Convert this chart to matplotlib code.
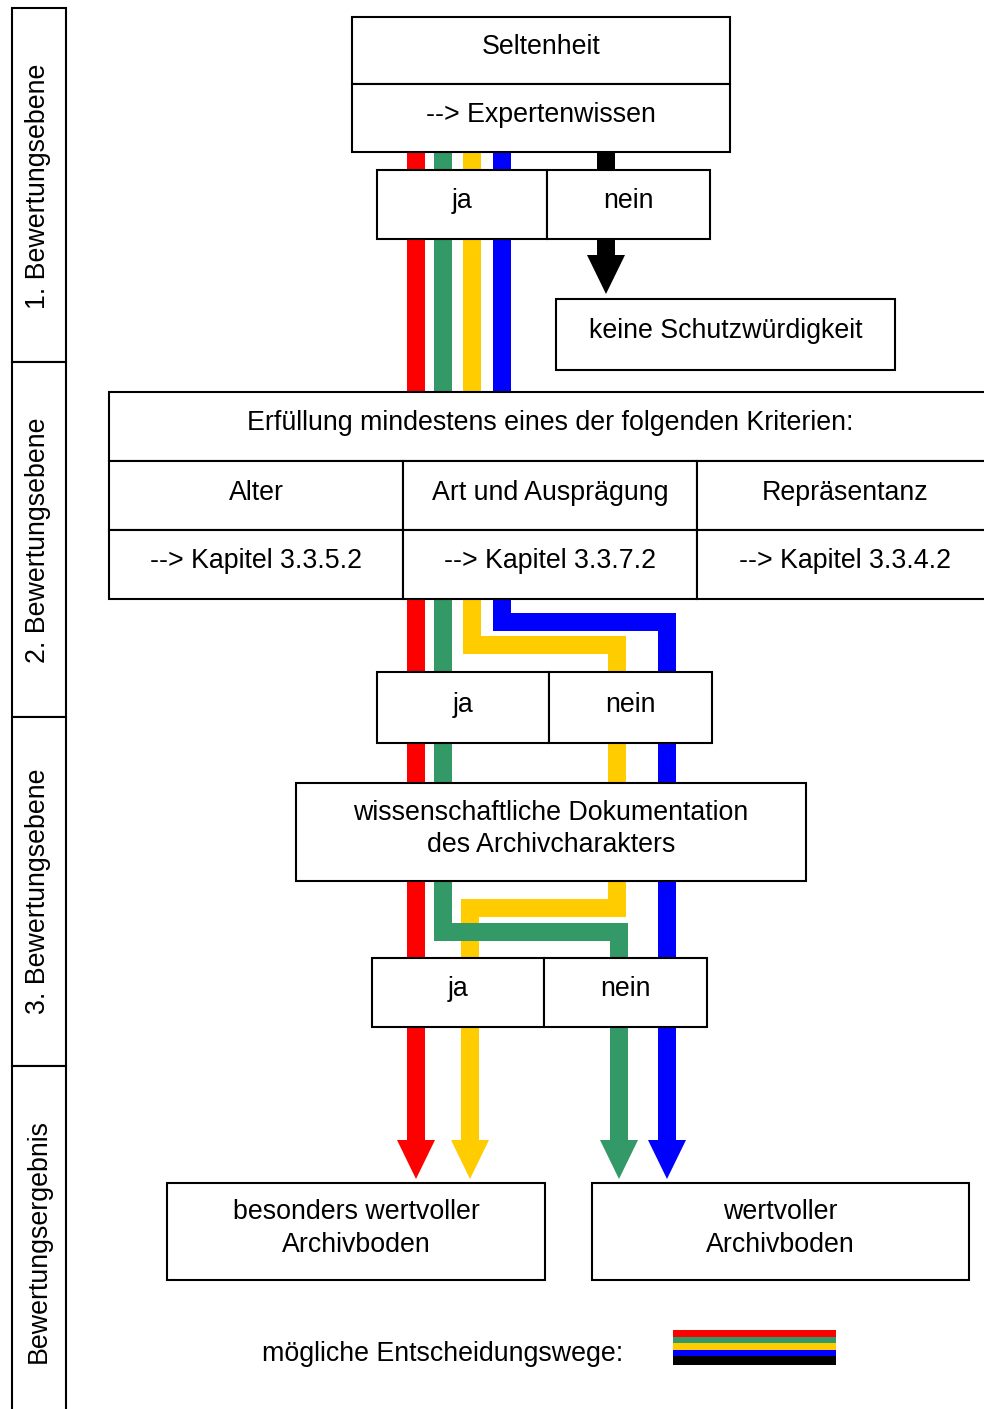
import matplotlib
matplotlib.use("Agg")
import matplotlib.pyplot as plt
from matplotlib.patches import Rectangle, Polygon

plt.rcParams['font.family'] = ['Liberation Sans', 'DejaVu Sans']

W, H = 984, 1409
FS = 19.3
LW_BOX = 1.5
PATH_W = 18  # px
DY = -3      # text vertical nudge (px)

# ---- content ----
level_labels = ["1. Bewertungsebene", "2. Bewertungsebene", "3. Bewertungsebene", "Bewertungsergebnis"]
level_bounds = [8, 362, 717, 1066, 1420]

path_colors = ["#FFCC00", "#FF0000", "#339966", "#0000FF"]  # draw order: yellow under green
legend_colors = ["#FF0000", "#339966", "#FFCC00", "#0000FF", "#000000"]

# path waypoints (x, y) in pixel layout coordinates, ending at arrow-head base
paths = {
    "#FF0000": [(416, 152), (416, 1140)],
    "#339966": [(443, 152), (443, 931.5), (619, 931.5), (619, 1140)],
    "#FFCC00": [(472, 152), (472, 645), (617, 645), (617, 907.5), (470, 907.5), (470, 1140)],
    "#0000FF": [(502, 152), (502, 621.5), (667, 621.5), (667, 1140)],
}
arrow_tip_y = 1179

fig = plt.figure(figsize=(W / 100, H / 100), dpi=100)
ax = fig.add_axes([0, 0, 1, 1])
ax.set_xlim(0, W)
ax.set_ylim(H, 0)
ax.axis('off')

px2pt = 72 / 100


def label(x, y, text, **kw):
    ax.text(x, y + DY, text, ha='center', va='center', fontsize=FS, zorder=6,
            linespacing=1.33, **kw)


def box(x0, y0, x1, y1, text=None):
    ax.add_patch(Rectangle((x0, y0), x1 - x0, y1 - y0, facecolor='white',
                           edgecolor='black', lw=LW_BOX, zorder=5))
    if text is not None:
        label((x0 + x1) / 2, (y0 + y1) / 2, text)


def arrow_head(xc, ybase, ytip, color, half=19):
    ax.add_patch(Polygon([(xc - half, ybase), (xc + half, ybase), (xc, ytip)],
                         closed=True, facecolor=color, edgecolor='none', zorder=3))


# ---- colored paths ----
for i, c in enumerate(path_colors):
    pts = paths[c]
    xs = [p[0] for p in pts]
    ys = [p[1] for p in pts]
    ax.plot(xs, ys, color=c, lw=PATH_W * px2pt, solid_joinstyle='miter',
            solid_capstyle='butt', zorder=2 + i * 0.1)
    arrow_head(xs[-1], ys[-1], arrow_tip_y, c)

# black path
ax.plot([606, 606], [152, 255], color='black', lw=PATH_W * px2pt,
        solid_capstyle='butt', zorder=2)
arrow_head(606, 255, 294, 'black')

# ---- left level column ----
level_cy = [186, 540, 891, 1241]
for i, lab in enumerate(level_labels):
    y0, y1 = level_bounds[i], level_bounds[i + 1]
    ax.add_patch(Rectangle((11.5, y0), 54, y1 - y0, facecolor='white',
                           edgecolor='black', lw=LW_BOX, zorder=5))
    ax.text(38.5, level_cy[i], lab, rotation=90,
            ha='center', va='center', fontsize=FS, zorder=6)

# ---- boxes ----
box(352, 17, 730, 84, "Seltenheit")
box(352, 84, 730, 152, "--> Expertenwissen")

box(377, 170, 547, 239, "ja")
box(547, 170, 710, 239, "nein")
box(556, 299, 895, 370, "keine Schutzwürdigkeit")

box(109, 392, 990, 461, None)
label(550, 426.5, "Erfüllung mindestens eines der folgenden Kriterien:")
crit_cols = [109, 403, 697, 990]
crit_names = ["Alter", "Art und Ausprägung", "Repräsentanz"]
crit_refs = ["--> Kapitel 3.3.5.2", "--> Kapitel 3.3.7.2", "--> Kapitel 3.3.4.2"]
crit_cx = [256, 550, 845]
for j in range(3):
    ax.add_patch(Rectangle((crit_cols[j], 461), crit_cols[j + 1] - crit_cols[j], 69,
                           facecolor='white', edgecolor='black', lw=LW_BOX, zorder=5))
    ax.add_patch(Rectangle((crit_cols[j], 530), crit_cols[j + 1] - crit_cols[j], 69,
                           facecolor='white', edgecolor='black', lw=LW_BOX, zorder=5))
    label(crit_cx[j], 495.5, crit_names[j])
    label(crit_cx[j], 564.5, crit_refs[j])

box(377, 672, 549, 743, "ja")
box(549, 672, 712, 743, "nein")

box(296, 783, 806, 881, "wissenschaftliche Dokumentation\ndes Archivcharakters")

box(372, 958, 544, 1027, "ja")
box(544, 958, 707, 1027, "nein")

box(167, 1183, 545, 1280, "besonders wertvoller\nArchivboden")
box(592, 1183, 969, 1280, "wertvoller\nArchivboden")

# ---- legend ----
label(443, 1357, "mögliche Entscheidungswege:")
leg_edges = [1330, 1337, 1343, 1350, 1356, 1365]
for k, c in enumerate(legend_colors):
    ax.add_patch(Rectangle((673, leg_edges[k]), 163, leg_edges[k + 1] - leg_edges[k],
                           facecolor=c, edgecolor='none', zorder=5))

fig.savefig("out.png", dpi=100)
